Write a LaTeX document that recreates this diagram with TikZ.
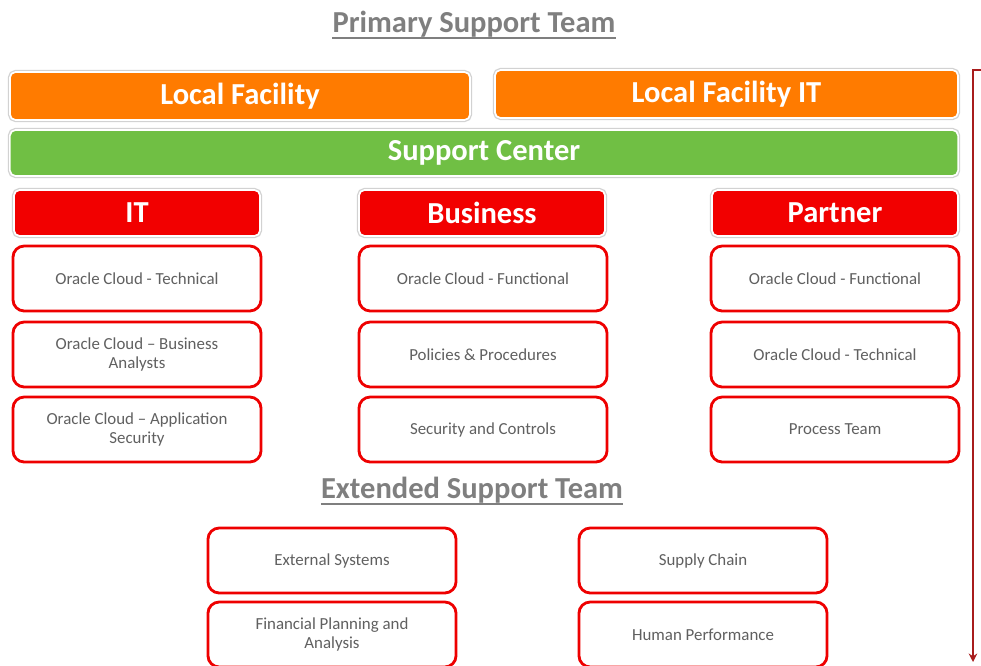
\documentclass[tikz,border=0pt]{standalone}
\usepackage{fontspec}
\setmainfont{Carlito}
\usepackage{tikz}
\usetikzlibrary{arrows.meta}

\definecolor{facorange}{HTML}{FF7B00}
\definecolor{ctrgreen}{HTML}{70BF44}
\definecolor{grpred}{HTML}{F20000}
\definecolor{boxred}{HTML}{EE0000}
\definecolor{txtgray}{HTML}{606060}
\definecolor{ttlgray}{HTML}{7F7F7F}
\definecolor{arrred}{HTML}{A81C1C}

\begin{document}
\begin{tikzpicture}[
x=0.025cm, y=-0.025cm,
head/.style={
  rounded corners=4pt,
  preaction={draw=gray!35, line width=3pt},
  draw=white,
  line width=1.2pt,
  text=white,
  font=\bfseries\fontsize{21.7}{24}\selectfont,
  minimum height=1.2cm,
  inner sep=0pt
  },
role/.style={
  draw=boxred,
  line width=2pt,
  rounded corners=8pt,
  fill=white,
  minimum width=6.2cm,
  minimum height=1.625cm,
  align=center,
  text=txtgray,
  font=\fontsize{12}{13.5}\selectfont
  },
ttl/.style={
  text=ttlgray,
  font=\bfseries\fontsize{21.7}{24}\selectfont,
  inner sep=0pt
  },
>={Stealth[length=6pt,width=6pt]}
]

\useasboundingbox (0,0) rectangle (981,665);

% titles
\node[ttl] (prim) at (474,24) {Primary Support Team};
\node[ttl] (ext) at (472,490) {Extended Support Team};
\foreach \t in {prim,ext}
  \draw[ttlgray, line width=2pt] ([yshift=-4pt]\t.base west) -- ([yshift=-4pt]\t.base east);

% top bars
\node[head, fill=facorange, minimum width=11.5cm] (lf) at (240,96) {Local Facility};
\node[head, fill=facorange, minimum width=11.575cm] (lfit) at (726.5,94) {Local Facility IT};
\node[head, fill=ctrgreen, minimum width=23.7cm, minimum height=1.15cm] (sc) at (484,153) {Support Center};

% groups
\foreach \n/\x/\t in {it/137/IT, bus/482/Business, prt/835/Partner}
  \node[head, fill=grpred, minimum width=6.15cm, minimum height=1.15cm] (\n) at (\x,213) {\t};

% primary team roles
\foreach \n/\x/\y/\t in {
  itA/137/278.5/{Oracle Cloud - Technical},
  itB/137/354.5/{Oracle Cloud -- Business\\Analysts},
  itC/137/429.5/{Oracle Cloud -- Application\\Security},
  busA/483/278.5/{Oracle Cloud - Functional},
  busB/483/354.5/{Policies \& Procedures},
  busC/483/429.5/{Security and Controls},
  prtA/835/278.5/{Oracle Cloud - Functional},
  prtB/835/354.5/{Oracle Cloud - Technical},
  prtC/835/429.5/{Process Team}}
  \node[role] (\n) at (\x,\y) {\t};

% extended team roles
\foreach \n/\x/\y/\t in {
  extA/332/560.5/{External Systems},
  extB/332/634.5/{Financial Planning and\\Analysis},
  extC/703/560.5/{Supply Chain},
  extD/703/634.5/{Human Performance}}
  \node[role] (\n) at (\x,\y) {\t};

% side arrow
\coordinate (arrtop) at (985,70);
\coordinate (arrbot) at (973,662);
\draw[->, arrred, line width=1.8pt] (arrtop) -| (arrbot);
\end{tikzpicture}
\end{document}
